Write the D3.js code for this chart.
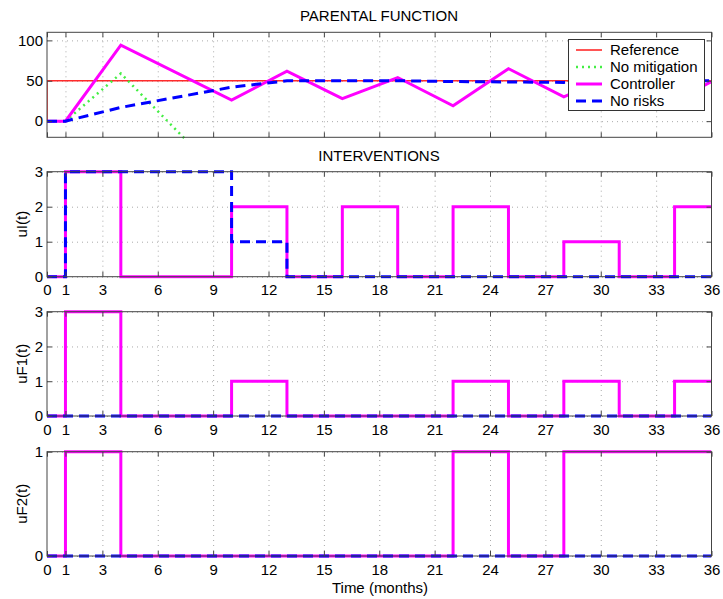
<!DOCTYPE html>
<html>
<head>
<meta charset="utf-8">
<script src="https://cdn.jsdelivr.net/npm/d3@7"></script>
<style>
  body { margin: 0; background: #fff; }
  text { font-family: "Liberation Sans", Arial, sans-serif; fill: #000; }
</style>
</head>
<body>
<svg id="chart" width="723" height="599"></svg>
<script>
// months used as breakpoints
const months = [0, 1, 4, 10, 13, 16, 19, 22, 25, 28, 31, 34, 36];
const xTicks = [0, 1, 3, 6, 9, 12, 15, 18, 21, 24, 27, 30, 33, 36];

// parental function
const refTimes = [0, 0, 36];
const refValues = [0, 50, 50];
const noMitTimes = [0, 1, 4, 10];
const noMitValues = [0, 0, 59, -81];
const ctrlPF = [0, 0, 94, 26, 62, 28, 54, 19, 65, 30, 60, 25, 49];
const noRiskPF = [0, 0, 17, 42, 50, 50, 50, 49, 48.5, 48, 49, 50, 50];

// interventions (step values held from each month)
const ctrlUI = [0, 3, 0, 2, 0, 2, 0, 2, 0, 1, 0, 2, 2];
const noRiskUI = [0, 3, 3, 1, 0, 0, 0, 0, 0, 0, 0, 0, 0];
const ctrlUF1 = [0, 3, 0, 1, 0, 0, 0, 1, 0, 1, 0, 1, 1];
const noRiskUF1 = [0, 0, 0, 0, 0, 0, 0, 0, 0, 0, 0, 0, 0];
const ctrlUF2 = [0, 1, 0, 0, 0, 0, 0, 1, 0, 1, 1, 1, 1];
const noRiskUF2 = [0, 0, 0, 0, 0, 0, 0, 0, 0, 0, 0, 0, 0];

const svg = d3.select('#chart');
const left = 47, right = 711.5;
const fontSize = '15px';

const x = d3.scaleLinear().domain([0, 36]).range([left, right]);

const styles = {
  ref: { color: '#ff2a2a', width: 1.6, dash: null },
  nomit: { color: '#44ee44', width: 2.5, dash: '2,4' },
  ctrl: { color: '#ff00ff', width: 3, dash: null },
  norisk: { color: '#0000ff', width: 3, dash: '10,6' }
};

const panels = [
  { top: 32.3, bottom: 137.3, domain: [-20, 110], yTicks: [0, 50, 100], xLabels: false, label: null },
  { top: 171.7, bottom: 276.7, domain: [0, 3], yTicks: [0, 1, 2, 3], xLabels: true, label: 'uI(t)' },
  { top: 311.7, bottom: 416, domain: [0, 3], yTicks: [0, 1, 2, 3], xLabels: true, label: 'uF1(t)' },
  { top: 451.7, bottom: 556, domain: [0, 1], yTicks: [0, 1], xLabels: true, label: 'uF2(t)' }
];

function drawLine(g, y, times, values, st, curve) {
  const pts = times.map((t, i) => [t, values[i]]);
  g.append('path')
    .datum(pts)
    .attr('fill', 'none')
    .attr('stroke', st.color)
    .attr('stroke-width', st.width)
    .attr('stroke-dasharray', st.dash)
    .attr('d', d3.line().x(d => x(d[0])).y(d => y(d[1])).curve(curve));
}

panels.forEach((p, i) => {
  const y = d3.scaleLinear().domain(p.domain).range([p.bottom, p.top]);
  p.y = y;
  const h = p.bottom - p.top;
  const g = svg.append('g');

  // grid
  g.append('g').attr('transform', `translate(0,${p.bottom})`)
    .call(d3.axisBottom(x).tickValues(xTicks.slice(1, -1)).tickSize(-h).tickFormat(''))
    .call(a => a.select('.domain').remove())
    .selectAll('line').attr('stroke', '#aaa').attr('stroke-dasharray', '1,4');
  g.append('g').attr('transform', `translate(${left},0)`)
    .call(d3.axisLeft(y).tickValues(p.yTicks).tickSize(-(right - left)).tickFormat(''))
    .call(a => a.select('.domain').remove())
    .selectAll('line').attr('stroke', '#aaa').attr('stroke-dasharray', '1,4');

  // clip
  svg.append('clipPath').attr('id', 'clip' + i)
    .append('rect').attr('x', left).attr('y', p.top - 2).attr('width', right - left).attr('height', h + 4);
  p.lines = g.append('g').attr('clip-path', `url(#clip${i})`);

  // axes with inward ticks
  const bottomAx = g.append('g').attr('transform', `translate(0,${p.bottom})`)
    .call(d3.axisBottom(x).tickValues(xTicks).tickSize(-5).tickPadding(8)
      .tickFormat(p.xLabels ? d3.format('d') : ''));
  const topAx = g.append('g').attr('transform', `translate(0,${p.top})`)
    .call(d3.axisTop(x).tickValues(xTicks).tickSize(-5).tickFormat(''));
  const leftAx = g.append('g').attr('transform', `translate(${left},0)`)
    .call(d3.axisLeft(y).tickValues(p.yTicks).tickSize(-5).tickPadding(4).tickFormat(d3.format('d')));
  const rightAx = g.append('g').attr('transform', `translate(${right},0)`)
    .call(d3.axisRight(y).tickValues(p.yTicks).tickSize(-5).tickFormat(''));
  [bottomAx, topAx, leftAx, rightAx].forEach(a => {
    a.attr('font-size', null).attr('font-family', null);
    a.select('.domain').remove();
    a.selectAll('line').attr('stroke', '#444');
    a.selectAll('text').style('font-size', fontSize).attr('fill', '#000');
  });

  if (p.label) {
    svg.append('text')
      .attr('transform', `translate(22,${(p.top + p.bottom) / 2}) rotate(-90)`)
      .attr('text-anchor', 'middle')
      .attr('dy', '0.35em')
      .style('font-size', fontSize)
      .text(p.label);
  }
});

// top panel lines
const pf = panels[0];
drawLine(pf.lines, pf.y, refTimes, refValues, styles.ref, d3.curveLinear);
drawLine(pf.lines, pf.y, noMitTimes, noMitValues, styles.nomit, d3.curveLinear);
drawLine(pf.lines, pf.y, months, ctrlPF, styles.ctrl, d3.curveLinear);
drawLine(pf.lines, pf.y, months, noRiskPF, styles.norisk, d3.curveLinear);

// interventions
[[ctrlUI, noRiskUI], [ctrlUF1, noRiskUF1], [ctrlUF2, noRiskUF2]].forEach((pair, k) => {
  const p = panels[k + 1];
  drawLine(p.lines, p.y, months, pair[0], styles.ctrl, d3.curveStepAfter);
  drawLine(p.lines, p.y, months, pair[1], styles.norisk, d3.curveStepAfter);
});

// frames on top
panels.forEach(p => {
  svg.append('rect')
    .attr('x', left).attr('y', p.top)
    .attr('width', right - left).attr('height', p.bottom - p.top)
    .attr('fill', 'none').attr('stroke', '#444').attr('stroke-width', 1);
});

// titles
svg.append('text').attr('x', 379).attr('y', 21).attr('text-anchor', 'middle')
  .style('font-size', fontSize).text('PARENTAL FUNCTION');
svg.append('text').attr('x', 379).attr('y', 161).attr('text-anchor', 'middle')
  .style('font-size', fontSize).text('INTERVENTIONS');
svg.append('text').attr('x', 380).attr('y', 593).attr('text-anchor', 'middle')
  .style('font-size', fontSize).text('Time (months)');

// legend
const legendItems = [
  { name: 'Reference', st: styles.ref },
  { name: 'No mitigation', st: styles.nomit },
  { name: 'Controller', st: styles.ctrl },
  { name: 'No risks', st: styles.norisk }
];
const lg = svg.append('g');
lg.append('rect').attr('x', 568.5).attr('y', 39.5).attr('width', 136).attr('height', 71)
  .attr('fill', '#fff').attr('stroke', '#333');
const ly = d3.scalePoint().domain(legendItems.map(d => d.name)).range([50, 101]);
legendItems.forEach(d => {
  lg.append('line').attr('x1', 576).attr('x2', 602)
    .attr('y1', ly(d.name)).attr('y2', ly(d.name))
    .attr('stroke', d.st.color).attr('stroke-width', d.st.width)
    .attr('stroke-dasharray', d.st.dash);
  lg.append('text').attr('x', 610).attr('y', ly(d.name) + 5)
    .style('font-size', fontSize).text(d.name);
});
</script>
</body>
</html>
